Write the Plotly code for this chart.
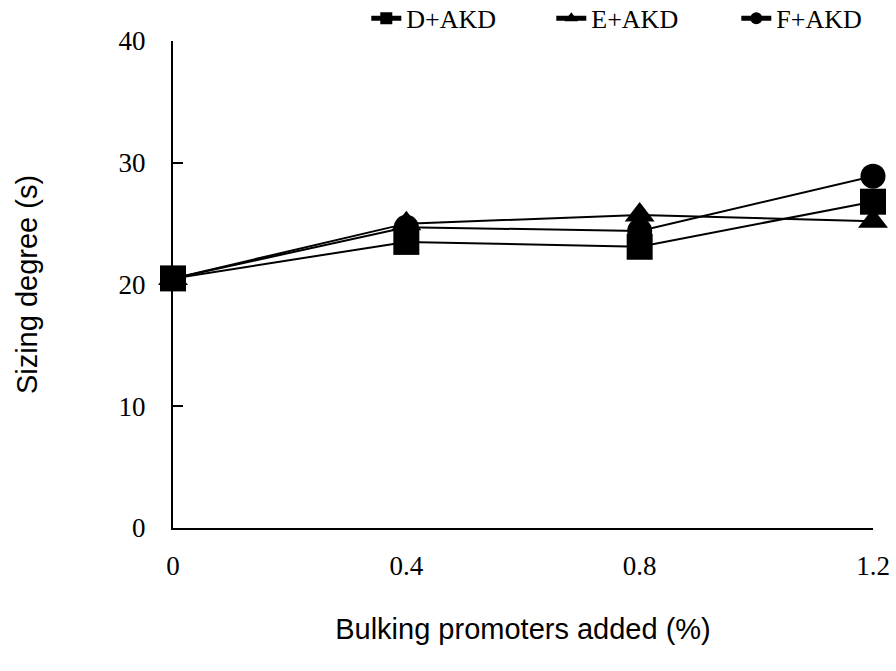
import plotly.graph_objects as go

# Bulking promoter dosage (%)
dosage = [0, 0.4, 0.8, 1.2]

# Sizing degree (s) for each promoter combined with AKD
d_akd = [20.5, 23.5, 23.1, 26.8]
e_akd = [20.5, 25.0, 25.7, 25.2]
f_akd = [20.5, 24.7, 24.4, 28.9]

series = [
    ("D+AKD", d_akd, "square", 26),
    ("E+AKD", e_akd, "triangle-up", 26),
    ("F+AKD", f_akd, "circle", 25),
]

x_ticks = [0, 0.4, 0.8, 1.2]
x_tick_text = ["0", "0.4", "0.8", "1.2"]
y_ticks = [0, 10, 20, 30, 40]

serif = "Liberation Serif, Times New Roman, serif"
sans = "Liberation Sans, Arial, sans-serif"

fig = go.Figure()
for name, values, symbol, size in series:
    fig.add_trace(go.Scatter(
        x=dosage, y=values, name=name, mode="lines+markers",
        line=dict(color="black", width=2),
        marker=dict(symbol=symbol, size=size, color="black"),
        cliponaxis=False,
    ))

fig.update_layout(
    width=896, height=671,
    margin=dict(l=173, r=23, t=41, b=143, autoexpand=False),
    paper_bgcolor="white", plot_bgcolor="white",
    showlegend=True,
    legend=dict(
        orientation="h", x=1.069, xanchor="right", y=1.095, yanchor="top",
        font=dict(family=serif, size=26, color="black"),
        itemsizing="constant", itemwidth=30,
        entrywidth=140, entrywidthmode="pixels",
        bgcolor="rgba(0,0,0,0)", tracegroupgap=0,
    ),
    xaxis=dict(
        range=[0, 1.2], tickvals=x_ticks, ticktext=x_tick_text,
        showgrid=False, zeroline=False, showline=True,
        linecolor="black", linewidth=2, ticks="",
        tickfont=dict(family=serif, size=27, color="black"),
        ticklabelstandoff=13,
        title=dict(text="Bulking promoters added (%)",
                   font=dict(family=sans, size=29, color="black"),
                   standoff=38),
    ),
    yaxis=dict(
        range=[0, 40], tickvals=y_ticks,
        showgrid=False, zeroline=False, showline=True,
        linecolor="black", linewidth=2,
        ticks="inside", ticklen=10, tickwidth=2, tickcolor="black",
        tickfont=dict(family=serif, size=27, color="black"),
        ticklabelstandoff=20,
        title=dict(text="Sizing degree (s)",
                   font=dict(family=sans, size=29, color="black"),
                   standoff=72),
    ),
)

fig.write_html("out.html")
